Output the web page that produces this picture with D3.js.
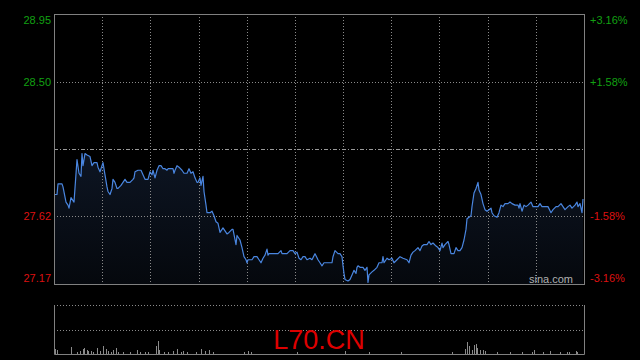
<!DOCTYPE html>
<html>
<head>
<meta charset="utf-8">
<script src="https://cdn.jsdelivr.net/npm/d3@7"></script>
<style>
  html, body { margin: 0; padding: 0; background: #000; }
  svg { display: block; font-family: Arial, "Liberation Sans", sans-serif; }
</style>
</head>
<body>
<div id="chart"></div>
<script>
// minutes from open, price
const minutes = [1, 3, 4, 8, 9, 12, 14, 15, 17, 19, 20, 23, 25, 27, 28, 29, 31, 33, 36, 38, 40, 43, 44, 46, 48, 49,
  51, 53, 54, 56, 58, 59, 61, 63, 64, 67, 69, 71, 73, 76, 79, 80, 81, 84, 87, 89, 91, 94, 96, 98, 99,
  101, 103, 105, 107, 109, 111, 113, 114, 117, 119, 120, 121, 123, 125, 128, 130, 133, 135, 137, 139, 141, 143, 144, 146, 147, 149,
  150, 152, 153, 156, 158, 160, 162, 164, 166, 168, 169, 171, 173, 175, 178, 179, 182, 183, 184, 186, 188, 189, 190, 192, 193, 194, 198,
  200, 203, 205, 207, 209, 211, 213, 214, 215, 219, 224, 227, 228, 233, 236, 239, 241, 243, 245, 247, 249,
  251, 253, 256, 258, 261, 264, 266, 268, 270, 274, 278, 279, 281, 284, 286, 288, 289, 290, 291, 294, 296, 298,
  300, 302, 303, 304, 306, 308, 309, 311, 313, 314, 315, 318, 320, 323, 325, 328, 329, 330, 333, 335, 338, 340, 343, 346, 349,
  353, 355, 357, 359, 361, 364, 366, 368, 370, 373, 375, 377, 379, 382, 384, 386, 388, 389, 391, 394, 395, 397,
  400, 402, 404, 406, 408, 410, 412, 413, 415, 417, 418, 420, 422, 424, 425, 427, 429, 431, 433, 435, 437, 438, 440, 443, 445, 447, 449,
  451, 454, 456, 458, 461, 464, 465, 466, 468, 470, 472, 474, 477, 479, 482, 484, 486, 488, 491, 494, 497, 499,
  502, 504, 507, 509, 511, 514, 516, 518, 521, 523, 524, 526, 528, 529];
const prices = [27.76, 27.76, 27.83, 27.83, 27.81, 27.71, 27.69, 27.67, 27.74, 27.72, 27.71, 27.99, 27.90, 27.88, 28.03, 27.95, 28.03, 28.02, 28.01, 27.95, 27.97, 27.97, 27.94, 27.91, 27.95, 27.97,
  27.89, 27.81, 27.78, 27.76, 27.80, 27.86, 27.84, 27.80, 27.80, 27.82, 27.84, 27.86, 27.84, 27.84, 27.86, 27.87, 27.91, 27.92, 27.92, 27.89, 27.86, 27.86, 27.91, 27.89, 27.92,
  27.87, 27.92, 27.95, 27.95, 27.93, 27.93, 27.92, 27.93, 27.93, 27.93, 27.90, 27.92, 27.95, 27.94, 27.92, 27.90, 27.90, 27.93, 27.90, 27.91, 27.87, 27.84, 27.84, 27.87, 27.82, 27.88,
  27.78, 27.69, 27.64, 27.64, 27.65, 27.62, 27.58, 27.57, 27.51, 27.53, 27.54, 27.52, 27.50, 27.51, 27.53, 27.53, 27.43, 27.49, 27.48, 27.46, 27.41, 27.38, 27.35, 27.33, 27.31, 27.33, 27.33,
  27.35, 27.35, 27.33, 27.31, 27.34, 27.36, 27.40, 27.36, 27.37, 27.37, 27.37, 27.39, 27.37, 27.37, 27.39, 27.39, 27.37, 27.38, 27.34, 27.33, 27.35,
  27.35, 27.33, 27.34, 27.33, 27.37, 27.33, 27.31, 27.29, 27.31, 27.31, 27.31, 27.35, 27.39, 27.37, 27.37, 27.35, 27.29, 27.24, 27.20, 27.19, 27.20, 27.23,
  27.26, 27.24, 27.28, 27.29, 27.28, 27.28, 27.28, 27.26, 27.28, 27.18, 27.23, 27.25, 27.26, 27.28, 27.31, 27.31, 27.35, 27.31, 27.34, 27.33, 27.34, 27.31, 27.33, 27.35, 27.34,
  27.33, 27.31, 27.36, 27.38, 27.39, 27.41, 27.39, 27.42, 27.43, 27.43, 27.45, 27.43, 27.44, 27.42, 27.41, 27.39, 27.44, 27.41, 27.43, 27.45, 27.43, 27.37,
  27.37, 27.41, 27.39, 27.39, 27.41, 27.46, 27.53, 27.60, 27.61, 27.62, 27.68, 27.77, 27.80, 27.84, 27.79, 27.76, 27.70, 27.66, 27.65, 27.66, 27.67, 27.64, 27.62, 27.61, 27.64, 27.69, 27.68,
  27.70, 27.70, 27.71, 27.70, 27.69, 27.69, 27.67, 27.70, 27.65, 27.69, 27.68, 27.69, 27.71, 27.68, 27.68, 27.68, 27.70, 27.68, 27.68, 27.68, 27.64, 27.66,
  27.68, 27.68, 27.70, 27.68, 27.66, 27.68, 27.69, 27.67, 27.69, 27.71, 27.68, 27.70, 27.64, 27.73];

// volume bars (minute, thousand shares)
const volMinutes = [1, 3, 17, 23, 26, 29, 30, 33, 34, 37, 39, 43, 46, 49, 52, 54, 57, 59, 62, 64, 69, 76, 83, 86, 91, 94,
  102, 104, 105, 110, 114, 119, 123, 127, 129, 133, 142, 147, 151, 155, 159, 190, 194, 197, 243, 291, 315, 347, 398,
  411, 413, 415, 418, 420, 422, 423, 426, 429, 431, 443, 456, 468, 478, 480, 489, 496, 506, 513, 515, 522, 523];
const volumes = [5, 4, 7, 2, 3, 5, 6, 4, 3, 3, 2, 6, 3, 8, 5, 3, 2, 4, 6, 2, 2, 2, 4, 2, 2, 2,
  8, 13, 4, 2, 2, 3, 5, 2, 3, 2, 2, 5, 3, 4, 2, 2, 3, 2, 2, 3, 2, 2, 2,
  5, 12, 8, 4, 9, 10, 6, 4, 4, 3, 2, 2, 2, 2, 4, 2, 3, 2, 2, 2, 3, 2];

const prevClose = 28.06;
const leftTicks = [28.95, 28.50, 27.62, 27.17];
const rightTicks = ["+3.16%", "+1.58%", "-1.58%", "-3.16%"];
const sessionLength = 530;
const gridColumns = 11;
const symbol = "L70.CN";

const width = 640, height = 360;
const plot = { left: 54, right: 584, top: 14, bottom: 284 };
const volPanel = { top: 305, bottom: 354 };

const svg = d3.select("#chart")
  .append("svg")
  .attr("width", width)
  .attr("height", height)
  .style("background", "#000");

const xScale = d3.scaleLinear()
  .domain([0, sessionLength])
  .range([plot.left, plot.right]);

const yScale = d3.scaleLinear()
  .domain([leftTicks[3], leftTicks[0]])
  .range([plot.bottom, plot.top]);

const volScale = d3.scaleLinear()
  .domain([0, 49])
  .range([volPanel.bottom, volPanel.top]);

const data = minutes.map((m, i) => ({ t: m, p: prices[i] }));

// area gradient
const grad = svg.append("defs")
  .append("linearGradient")
  .attr("id", "fillGrad")
  .attr("gradientUnits", "userSpaceOnUse")
  .attr("x1", 0).attr("x2", 0)
  .attr("y1", plot.top).attr("y2", plot.bottom);
grad.append("stop").attr("offset", "0%").attr("stop-color", "#16233a");
grad.append("stop").attr("offset", "100%").attr("stop-color", "#05080d");

const area = d3.area()
  .x(d => xScale(d.t))
  .y0(plot.bottom)
  .y1(d => yScale(d.p));

svg.append("path")
  .datum(data)
  .attr("d", area)
  .attr("fill", "url(#fillGrad)");

// grid
const colTicks = d3.range(1, gridColumns).map(i => sessionLength * i / gridColumns);

svg.append("g")
  .selectAll("line")
  .data(colTicks)
  .join("line")
  .attr("x1", d => Math.round(xScale(d)) + 0.5)
  .attr("x2", d => Math.round(xScale(d)) + 0.5)
  .attr("y1", plot.top)
  .attr("y2", plot.bottom)
  .attr("stroke", "#8a8a8a")
  .attr("stroke-dasharray", "1,2");

svg.append("g")
  .selectAll("line")
  .data([leftTicks[1], leftTicks[2]])
  .join("line")
  .attr("x1", plot.left)
  .attr("x2", plot.right)
  .attr("y1", d => Math.round(yScale(d)) + 0.5)
  .attr("y2", d => Math.round(yScale(d)) + 0.5)
  .attr("stroke", "#8a8a8a")
  .attr("stroke-dasharray", "1,2");

svg.append("line")
  .attr("x1", plot.left)
  .attr("x2", plot.right)
  .attr("y1", Math.round(yScale(prevClose)) + 0.5)
  .attr("y2", Math.round(yScale(prevClose)) + 0.5)
  .attr("stroke", "#9a9a9a")
  .attr("stroke-dasharray", "4,2,1,2");

// price line
const line = d3.line()
  .x(d => xScale(d.t))
  .y(d => yScale(d.p));

svg.append("path")
  .datum(data)
  .attr("d", line)
  .attr("fill", "none")
  .attr("stroke", "#4a86e0")
  .attr("stroke-width", 1.2)
  .attr("stroke-linejoin", "round");

// frame
svg.append("rect")
  .attr("x", plot.left + 0.5)
  .attr("y", plot.top + 0.5)
  .attr("width", plot.right - plot.left)
  .attr("height", plot.bottom - plot.top)
  .attr("fill", "none")
  .attr("stroke", "#808080");

// axis labels
svg.append("g")
  .selectAll("text")
  .data(leftTicks)
  .join("text")
  .text(d => d.toFixed(2))
  .attr("x", plot.left - 3)
  .attr("y", (d, i) => yScale(d) + (i === 0 ? 6 : i === 3 ? -6 : 0))
  .attr("text-anchor", "end")
  .attr("dominant-baseline", "central")
  .attr("fill", d => d > prevClose ? "#12a012" : "#dd1111")
  .style("font-size", "11px");

svg.append("g")
  .selectAll("text")
  .data(rightTicks)
  .join("text")
  .text(d => d)
  .attr("x", plot.right + 6)
  .attr("y", (d, i) => yScale(leftTicks[i]) + (i === 0 ? 6 : i === 3 ? -6 : 0))
  .attr("text-anchor", "start")
  .attr("dominant-baseline", "central")
  .attr("fill", d => d.startsWith("+") ? "#12a012" : "#dd1111")
  .style("font-size", "11px");

svg.append("text")
  .text("sina.com")
  .attr("x", plot.right - 11)
  .attr("y", plot.bottom - 1)
  .attr("text-anchor", "end")
  .attr("fill", "#b0b0b0")
  .style("font-size", "11px");

// volume panel
const vol = svg.append("g");

vol.selectAll("line.grid")
  .data([volPanel.top, (volPanel.top + volPanel.bottom) / 2])
  .join("line")
  .attr("class", "grid")
  .attr("x1", plot.left)
  .attr("x2", plot.right)
  .attr("y1", d => Math.round(d) + 0.5)
  .attr("y2", d => Math.round(d) + 0.5)
  .attr("stroke", "#8a8a8a")
  .attr("stroke-dasharray", "1,2");

vol.selectAll("line.bar")
  .data(volMinutes.map((m, i) => ({ t: m, v: volumes[i] })))
  .join("line")
  .attr("class", "bar")
  .attr("x1", d => Math.round(xScale(d.t)) + 0.5)
  .attr("x2", d => Math.round(xScale(d.t)) + 0.5)
  .attr("y1", volScale(0))
  .attr("y2", d => volScale(d.v))
  .attr("stroke", "#8a8a8a");

vol.append("path")
  .attr("d", `M${plot.left + 0.5},${volPanel.top}V${volPanel.bottom + 0.5}H${plot.right + 0.5}V${volPanel.top}`)
  .attr("fill", "none")
  .attr("stroke", "#808080");

svg.append("text")
  .text(symbol)
  .attr("x", (plot.left + plot.right) / 2)
  .attr("y", 349)
  .attr("text-anchor", "middle")
  .attr("fill", "#dd0000")
  .style("font-size", "27px");
</script>
</body>
</html>
